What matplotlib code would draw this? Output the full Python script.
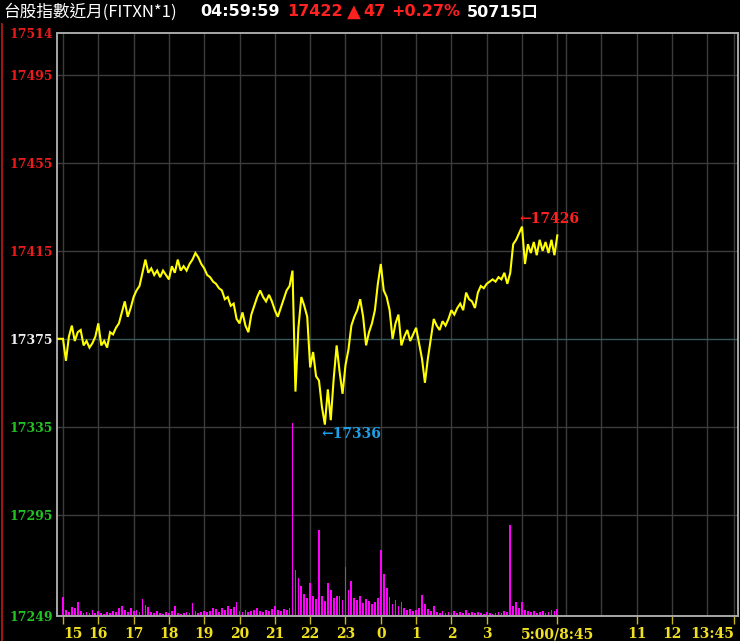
import numpy as np
import matplotlib.pyplot as plt
from matplotlib.lines import Line2D

# price every 5 minutes from 15:00 to 05:00 (night session)
prices = [17375, 17365, 17376, 17381, 17374, 17378, 17379, 17372, 17374, 17371,
          17373, 17376, 17382, 17372, 17374, 17371, 17378, 17377, 17380, 17382,
          17387, 17392, 17385, 17389, 17394, 17397, 17399, 17405, 17411, 17405,
          17407, 17404, 17406, 17403, 17406, 17404, 17402, 17408, 17405, 17411,
          17406, 17408, 17406, 17409, 17411, 17414, 17412, 17409, 17407, 17404,
          17403, 17401, 17400, 17398, 17397, 17393, 17394, 17390, 17391, 17384,
          17382, 17387, 17381, 17378, 17386, 17390, 17394, 17397, 17394, 17392,
          17395, 17392, 17388, 17385, 17389, 17393, 17397, 17399, 17406, 17351,
          17380, 17394, 17390, 17385, 17362, 17369, 17358, 17356, 17344, 17336,
          17352, 17338, 17357, 17372, 17360, 17350, 17363, 17370, 17381, 17385,
          17388, 17393, 17385, 17372, 17378, 17382, 17388, 17400, 17409, 17397,
          17394, 17388, 17375, 17382, 17386, 17372, 17376, 17379, 17374, 17377,
          17380, 17373, 17366, 17355, 17366, 17375, 17384, 17381, 17379, 17383,
          17381, 17384, 17388, 17386, 17389, 17391, 17388, 17396, 17393, 17392,
          17389, 17396, 17399, 17398, 17400, 17401, 17402, 17401, 17403, 17402,
          17405, 17400, 17405, 17418, 17420, 17423, 17426, 17409, 17418, 17414,
          17419, 17413, 17420, 17415, 17419, 17414, 17420, 17413, 17422]

# relative volume per 5 minutes
volume = [19, 6, 4, 9, 8, 14, 5, 3, 4, 3, 6, 3, 5, 3, 2, 4, 3, 5, 4, 8,
          10, 6, 4, 8, 5, 6, 4, 17, 11, 9, 4, 3, 5, 3, 2, 4, 3, 5, 10, 3,
          2, 3, 4, 3, 13, 5, 3, 4, 5, 4, 5, 8, 7, 4, 8, 6, 10, 7, 9, 14,
          5, 4, 6, 4, 5, 6, 8, 5, 4, 6, 5, 7, 10, 6, 5, 7, 6, 8, 193, 46,
          38, 30, 22, 18, 33, 20, 17, 86, 20, 15, 33, 26, 18, 20, 20, 16, 49, 26, 35, 18,
          16, 20, 13, 17, 15, 12, 14, 18, 66, 42, 28, 19, 12, 16, 10, 14, 8, 6, 7, 5,
          6, 8, 21, 12, 7, 5, 10, 4, 3, 5, 3, 4, 3, 5, 3, 4, 3, 6, 3, 4,
          3, 4, 3, 2, 4, 3, 2, 3, 4, 3, 5, 4, 91, 10, 14, 8, 14, 6, 5, 4,
          5, 3, 4, 5, 3, 4, 6, 5, 7]

ref_price = 17375
y_ticks = [17249, 17295, 17335, 17375, 17415, 17455, 17495, 17514]
# minutes from 15:00; day session starts at 840 (8:45)
x_ticks = [0, 60, 120, 180, 240, 300, 360, 420, 480, 540, 600, 660, 720, 840, 975, 1035, 1140]
x_labels = ['15', '16', '17', '18', '19', '20', '21', '22', '23', '0', '1', '2', '3',
            '5:00/8:45', '11', '12', '13:45']
x_grid = [0, 60, 120, 180, 240, 300, 360, 420, 480, 540, 600, 660, 720, 780, 840,
          855, 915, 975, 1035, 1095, 1140]

times = np.arange(len(prices)) * 5
vol_times = np.arange(len(volume)) * 5

fig = plt.figure(figsize=(7.4, 6.41), dpi=100, facecolor='black')
ax = fig.add_axes([57 / 740, 1 - 616 / 641, 681 / 740, 583 / 641])
ax2 = ax.twinx()
ax.set_zorder(ax2.get_zorder() + 1)
ax.patch.set_visible(False)
ax2.set_facecolor('black')

ymin, ymax = 17249, 17514
xmin, xmax = -10.2, 1147
ax.set_xlim(xmin, xmax)
ax.set_ylim(ymin, ymax)
ax2.set_ylim(0, 583)
ax2.set_yticks([])

# grid
for g in x_grid:
    ax2.axvline(g, color='#3c3c3c', lw=1, zorder=0)
for t in y_ticks[1:-1]:
    c = '#38585c' if t == ref_price else '#3c3c3c'
    ax2.axhline((t - ymin) / (ymax - ymin) * 583, color=c, lw=1, zorder=0)

ax2.bar(vol_times, volume, width=3, color='#ff00ff', linewidth=0, align='center', zorder=2)

ax.plot(np.concatenate([[xmin], times]), [ref_price] + prices, color='#ffff00', lw=1.5,
        solid_joinstyle='miter', zorder=3)

for a in (ax, ax2):
    for s in a.spines.values():
        s.set_color('#a8a8a8')
        s.set_linewidth(1.2)

# y ticks
ax.set_yticks(y_ticks)
ax.set_yticklabels([str(t) for t in y_ticks], family='DejaVu Serif', fontweight='bold', fontsize=9)
ax.tick_params(axis='y', length=0, pad=3)
for lbl, t in zip(ax.get_yticklabels(), y_ticks):
    lbl.set_color('#e81c1c' if t > ref_price else ('#f0f0f0' if t == ref_price else '#22c322'))

# x ticks
ax.set_xticks(x_ticks)
ax.set_xticklabels(x_labels, family='DejaVu Serif', fontweight='bold', fontsize=10, color='#f0e020')
ax.tick_params(axis='x', length=6, color='#c8b820', width=1, pad=2)
xl = ax.get_xticklabels()
xl[0].set_ha('left')
xl[-1].set_ha('right')

# high / low marks
hi = int(np.argmax(prices))
lo = int(np.argmin(prices))
ax.annotate('\u2190' + str(prices[hi]), (times[hi], prices[hi]), xytext=(-3, 8),
            textcoords='offset pixels', color='#ff2020', fontsize=10, fontweight='bold',
            family='DejaVu Serif', va='center', ha='left')
ax.annotate('\u2190' + str(prices[lo]), (times[lo], prices[lo]), xytext=(-3, -9),
            textcoords='offset pixels', color='#1e9fe6', fontsize=10, fontweight='bold',
            family='DejaVu Serif', va='center', ha='left')

# header
ty = 1 - 12 / 641
fig.text(3 / 740, ty, '台股指數近月(FITXN*1)', color='white', fontsize=12,
         family=['Noto Sans CJK TC', 'DejaVu Sans'], va='center', ha='left')
header = [(200, '04:59:59', 'white', 11.5), (287, '17422', '#ff2020', 11.5),
          (347, '▲', '#ff2020', 13), (363, '47', '#ff2020', 11.5),
          (391, '+0.27%', '#ff2020', 11.5), (467, '50715口', 'white', 11.5)]
for hx, txt, col, fs in header:
    fig.text(hx / 740, ty, txt, color=col, fontsize=fs, fontweight='bold',
             family=['DejaVu Sans', 'Noto Sans CJK TC'], va='center', ha='left')

fig.add_artist(Line2D([1.5 / 740, 1.5 / 740], [0, 1 - 24 / 641], transform=fig.transFigure,
                      color='#c01818', lw=1.2))

fig.savefig('out.png', dpi=100, facecolor='black')
